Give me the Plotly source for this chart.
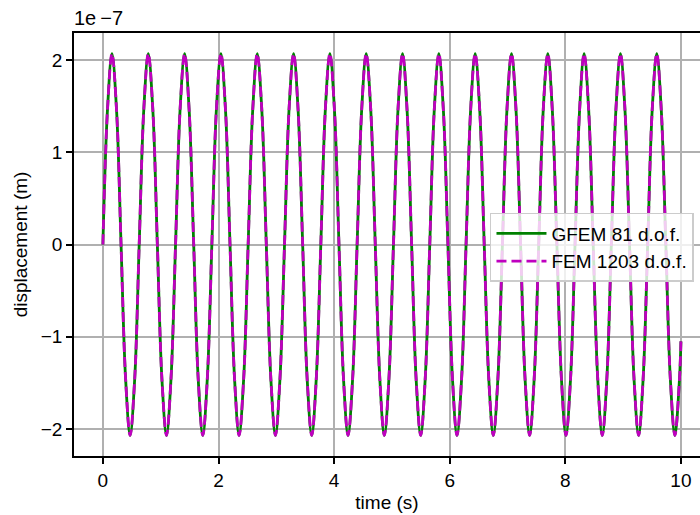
import plotly.graph_objects as go

# time samples (s)
time_s = [0.000, 0.079, 0.157, 0.236, 0.314, 0.393, 0.471, 0.550, 0.628, 0.707,
          0.785, 0.864, 0.942, 1.021, 1.100, 1.178, 1.257, 1.335, 1.414, 1.492,
          1.571, 1.649, 1.728, 1.806, 1.885, 1.963, 2.042, 2.121, 2.199, 2.278,
          2.356, 2.435, 2.513, 2.592, 2.670, 2.749, 2.827, 2.906, 2.985, 3.063,
          3.142, 3.220, 3.299, 3.377, 3.456, 3.534, 3.613, 3.691, 3.770, 3.848,
          3.927, 4.006, 4.084, 4.163, 4.241, 4.320, 4.398, 4.477, 4.555, 4.634,
          4.712, 4.791, 4.869, 4.948, 5.027, 5.105, 5.184, 5.262, 5.341, 5.419,
          5.498, 5.576, 5.655, 5.733, 5.812, 5.890, 5.969, 6.048, 6.126, 6.205,
          6.283, 6.362, 6.440, 6.519, 6.597, 6.676, 6.754, 6.833, 6.912, 6.990,
          7.069, 7.147, 7.226, 7.304, 7.383, 7.461, 7.540, 7.618, 7.697, 7.775,
          7.854, 7.933, 8.011, 8.090, 8.168, 8.247, 8.325, 8.404, 8.482, 8.561,
          8.639, 8.718, 8.796, 8.875, 8.954, 9.032, 9.111, 9.189, 9.268, 9.346,
          9.425, 9.503, 9.582, 9.660, 9.739, 9.817, 9.896, 9.975, 10.000]

# displacement in units of 1e-7 m (GFEM, 81 d.o.f.)
gfem_disp = [0, 1.46, 2.07, 1.46, 0, -1.46, -2.07, -1.46,
             0, 1.46, 2.07, 1.46, 0, -1.46, -2.07, -1.46,
             0, 1.46, 2.07, 1.46, 0, -1.46, -2.07, -1.46,
             0, 1.46, 2.07, 1.46, 0, -1.46, -2.07, -1.46,
             0, 1.46, 2.07, 1.46, 0, -1.46, -2.07, -1.46,
             0, 1.46, 2.07, 1.46, 0, -1.46, -2.07, -1.46,
             0, 1.46, 2.07, 1.46, 0, -1.46, -2.07, -1.46,
             0, 1.46, 2.07, 1.46, 0, -1.46, -2.07, -1.46,
             0, 1.46, 2.07, 1.46, 0, -1.46, -2.07, -1.46,
             0, 1.46, 2.07, 1.46, 0, -1.46, -2.07, -1.46,
             0, 1.46, 2.07, 1.46, 0, -1.46, -2.07, -1.46,
             0, 1.46, 2.07, 1.46, 0, -1.46, -2.07, -1.46,
             0, 1.46, 2.07, 1.46, 0, -1.46, -2.07, -1.46,
             0, 1.46, 2.07, 1.46, 0, -1.46, -2.07, -1.46,
             0, 1.46, 2.07, 1.46, 0, -1.46, -2.07, -1.46,
             0, 1.46, 2.07, 1.46, 0, -1.46, -2.07, -1.46,
             -1.05]

# displacement in units of 1e-7 m (FEM, 1203 d.o.f.)
fem_disp = list(gfem_disp)

x_ticks = [0, 2, 4, 6, 8, 10]
y_ticks = [-2, -1, 0, 1, 2]
y_tick_text = ["\u22122", "\u22121", "0", "1", "2"]

FONT = "Liberation Sans, Arial, sans-serif"
FS = 19
TXT = dict(size=FS, color="black", family=FONT)

fig = go.Figure()
fig.add_trace(go.Scatter(
    x=time_s, y=gfem_disp, mode="lines", name="GFEM 81 d.o.f.",
    line=dict(color="#008000", width=2.8, shape="spline"),
))
fig.add_trace(go.Scatter(
    x=time_s, y=fem_disp, mode="lines", name="FEM 1203 d.o.f.",
    line=dict(color="#bf00bf", width=2.8, dash="10px,5px", shape="spline"),
))

axis_common = dict(
    showgrid=True, gridcolor="#b0b0b0", gridwidth=1.5,
    showline=True, linecolor="black", linewidth=1.5,
    ticks="outside", ticklen=6, tickwidth=1.5, tickcolor="black",
    zeroline=False, tickfont=TXT,
)

fig.update_xaxes(range=[-0.5, 10.33], tickvals=x_ticks, mirror=True,
                 title=dict(text="time (s)", font=TXT, standoff=6),
                 **axis_common)
fig.update_yaxes(range=[-2.293, 2.293], tickvals=y_ticks, ticktext=y_tick_text,
                 title=dict(text="displacement (m)", font=TXT, standoff=8),
                 **axis_common)

fig.add_annotation(text="1e\u2009\u22127", xref="paper", yref="paper", x=0, y=1,
                   xanchor="left", yanchor="bottom", showarrow=False,
                   font=dict(size=20, color="black", family=FONT), yshift=2, xshift=-2)

fig.update_layout(
    width=700, height=515,
    margin=dict(l=74, r=0, t=33, b=59),
    paper_bgcolor="white", plot_bgcolor="white",
    font=TXT,
    legend=dict(x=0.6645, y=0.5745, xanchor="left", yanchor="top",
                itemwidth=50,
                bgcolor="rgba(255,255,255,0.8)", bordercolor="#cccccc", borderwidth=1.5,
                font=TXT),
    showlegend=True,
)

fig.write_html("out.html", config={"displayModeBar": False},
               post_script="document.body.style.margin='0';document.body.style.overflow='hidden';")
